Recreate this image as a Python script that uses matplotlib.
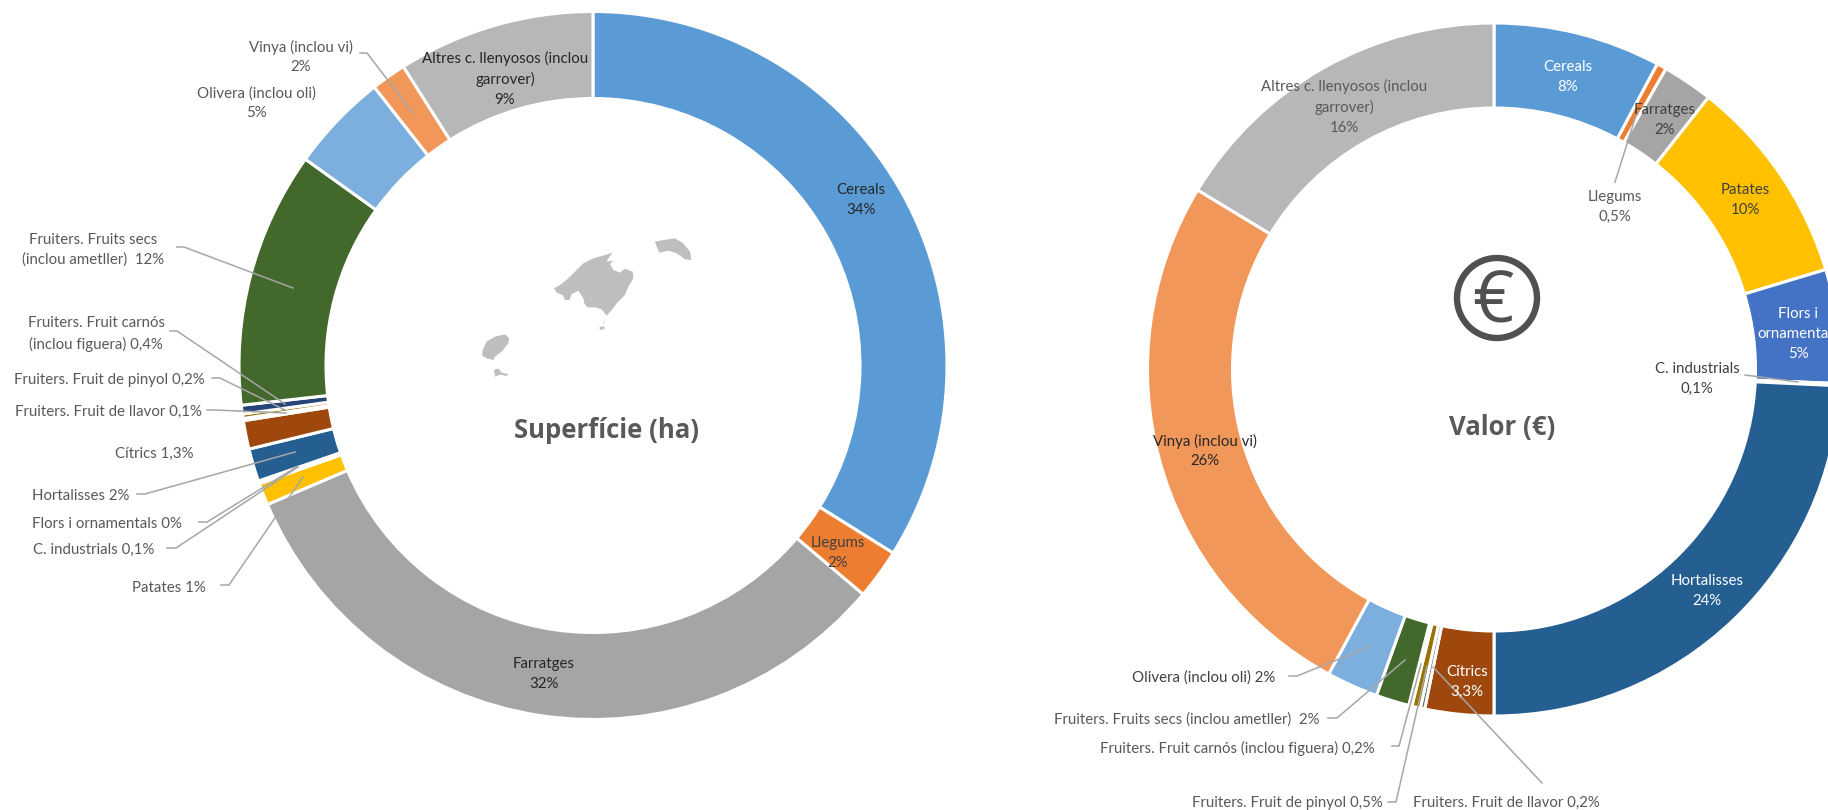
import matplotlib
matplotlib.use("Agg")
import matplotlib.pyplot as plt
from matplotlib.patches import Circle, Polygon

plt.rcParams["font.family"] = ["Lato", "DejaVu Sans"]

W, H = 1828, 810

# Series order is the same in both rings (clockwise from 12 o'clock)
categories = ["Cereals", "Llegums", "Farratges", "Patates", "Flors i ornamentals",
              "C. industrials", "Hortalisses", "Cítrics", "Fruiters. Fruit de llavor",
              "Fruiters. Fruit de pinyol", "Fruiters. Fruit carnós (inclou figuera)",
              "Fruiters. Fruits secs (inclou ametller)", "Olivera (inclou oli)",
              "Vinya (inclou vi)", "Altres c. llenyosos (inclou garrover)"]
surface_pct = [33.9, 2.3, 32.4, 1.0, 0.03, 0.1, 1.5, 1.3, 0.1, 0.2, 0.4, 11.7, 4.5, 1.6, 9.0]
value_pct = [7.8, 0.45, 2.35, 9.7, 5.3, 0.1, 24.2, 3.2, 0.2, 0.4, 0.15, 1.55, 2.4, 25.7, 16.3]
colors = ["#5B9BD5", "#ED7D31", "#A5A5A5", "#FFC000", "#4472C4", "#70AD47", "#255E91", "#9E480E",
          "#636363", "#997300", "#264478", "#43682B", "#7CAFDD", "#F1975A", "#B7B7B7"]

GREY = "#595959"
DARK = "#262626"
WHITE = "#FFFFFF"

# text, x, y, colour, ha  (x, y in pixels from the top left)
surface_labels = [
    ("Cereals\n34%", 861, 200, DARK, "center"),
    ("Llegums\n2%", 838, 553, "#404040", "center"),
    ("Farratges\n32%", 544, 674, DARK, "center"),
    ("Altres c. llenyosos (inclou\ngarrover)\n9%", 505, 79, DARK, "center"),
    ("Vinya (inclou vi)\n2%", 301, 57, GREY, "center"),
    ("Olivera (inclou oli)\n5%", 256, 103, GREY, "center"),
    ("Fruiters. Fruits secs\n(inclou ametller)  12%", 93, 250, GREY, "center"),
    ("Fruiters. Fruit carnós\n(inclou figuera) 0,4%", 96, 334, GREY, "center"),
    ("Fruiters. Fruit de pinyol 0,2%", 109, 380, GREY, "center"),
    ("Fruiters. Fruit de llavor 0,1%", 108, 412, GREY, "center"),
    ("Cítrics 1,3%", 154, 454, GREY, "center"),
    ("Hortalisses 2%", 81, 496, GREY, "center"),
    ("Flors i ornamentals 0%", 107, 524, GREY, "center"),
    ("C. industrials 0,1%", 94, 550, GREY, "center"),
    ("Patates 1%", 169, 588, GREY, "center"),
]
value_labels = [
    ("Cereals\n8%", 1568, 77, WHITE, "center"),
    ("Farratges\n2%", 1665, 120, "#404040", "center"),
    ("Llegums\n0,5%", 1615, 207, GREY, "center"),
    ("Patates\n10%", 1745, 200, "#404040", "center"),
    ("Flors i\nornamentals\n5%", 1798, 334, WHITE, "center"),
    ("C. industrials\n0,1%", 1697, 379, "#404040", "center"),
    ("Hortalisses\n24%", 1707, 591, WHITE, "center"),
    ("Cítrics\n3,3%", 1467, 682, WHITE, "center"),
    ("Vinya (inclou vi)\n26%", 1205, 451, DARK, "center"),
    ("Altres c. llenyosos (inclou\ngarrover)\n16%", 1344, 107, GREY, "center"),
    ("Olivera (inclou oli) 2%", 1204, 678, "#404040", "center"),
    ("Fruiters. Fruits secs (inclou ametller)  2%", 1319, 720, GREY, "right"),
    ("Fruiters. Fruit carnós (inclou figuera) 0,2%", 1375, 748, GREY, "right"),
    ("Fruiters. Fruit de pinyol 0,5%", 1383, 803, GREY, "right"),
    ("Fruiters. Fruit de llavor 0,2%", 1413, 803, GREY, "left"),
]

# leader lines, pixels from the top left
leaders = [
    [(177, 247), (184, 247), (293, 288)],
    [(170, 331), (177, 331), (285, 404)],
    [(212, 378), (220, 378), (285, 410)],
    [(207, 410), (215, 410), (286, 413)],
    [(137, 494), (145, 494), (295, 452)],
    [(199, 522), (207, 522), (298, 466)],
    [(167, 548), (176, 548), (298, 467)],
    [(221, 585), (229, 585), (303, 477)],
    [(360, 53), (367, 53), (413, 113)],
    [(1615, 182), (1637, 112)],
    [(1745, 375), (1798, 382)],
    [(1289, 676), (1297, 676), (1369, 647)],
    [(1328, 718), (1337, 718), (1405, 660)],
    [(1392, 746), (1399, 746), (1421, 664)],
    [(1388, 802), (1396, 802), (1427, 666)],
    [(1542, 783), (1433, 667)],
]

# Balearic islands outline, traced in a 3x crop with origin (450, 220)
mallorca = [(312, 205), (330, 195), (355, 175), (375, 155), (400, 130), (430, 115), (465, 105), (488, 98),
            (475, 115), (470, 125), (490, 122), (480, 132), (490, 150), (510, 158), (525, 146), (548, 155),
            (550, 175), (535, 200), (525, 225), (500, 250), (485, 270), (470, 287), (455, 268), (435, 262),
            (412, 262), (403, 250), (400, 235), (385, 212), (365, 222), (358, 240), (345, 240), (338, 225),
            (320, 218)]
menorca = [(615, 65), (640, 60), (675, 55), (700, 70), (720, 95), (724, 120), (705, 118), (680, 100),
           (655, 92), (628, 98), (622, 85)]
eivissa = [(97, 392), (110, 365), (135, 350), (165, 343), (178, 355), (175, 370), (155, 395), (135, 410),
           (130, 420), (110, 415), (97, 408)]
formentera = [(132, 450), (145, 445), (155, 458), (175, 462), (170, 468), (150, 464), (135, 470)]
cabrera = [(447, 323), (460, 318), (465, 325), (452, 330)]
conillera = [(460, 305), (465, 302), (460, 312)]
islands = [mallorca, menorca, eivissa, formentera, cabrera, conillera]


def fy(y):
    # pixel rows count from the top, the axes from the bottom
    return H - y


fig = plt.figure(figsize=(W / 100, H / 100), dpi=100)
ax = fig.add_axes([0, 0, 1, 1])

# Rings
wedge_style = {"edgecolor": "white", "linewidth": 2.2}
ax.pie(surface_pct, colors=colors, startangle=90, counterclock=False, center=(593, fy(365.5)), radius=354,
       wedgeprops=dict(width=87, **wedge_style))
ax.pie(value_pct, colors=colors, startangle=90, counterclock=False, center=(1494, fy(369.5)), radius=346.5,
       wedgeprops=dict(width=85, **wedge_style))

ax.set_xlim(0, W)
ax.set_ylim(0, H)
ax.set_aspect("equal")
ax.axis("off")

# Leaders
for line in leaders:
    ax.plot([p[0] for p in line], [fy(p[1]) for p in line], color="#A6A6A6", lw=1.1, zorder=3)

# Labels
for text, x, y, col, ha in surface_labels + value_labels:
    ax.text(x, fy(y), text, color=col, ha=ha, va="center", ma="center", fontsize=10.85, linespacing=1.5, zorder=4)

# Centre titles
ax.text(607, fy(431), "Superfície (ha)", color=GREY, fontsize=18.5, fontweight="bold", family="Open Sans",
        ha="center", va="center")
ax.text(1502, fy(427), "Valor (€)", color=GREY, fontsize=18.5, fontweight="bold", family="Open Sans",
        ha="center", va="center")

# Map of the islands
for shape in islands:
    pts = [(450 + px / 3, fy(220 + py / 3)) for px, py in shape]
    ax.add_patch(Polygon(pts, closed=True, facecolor="#BDBEC0", edgecolor="none"))

# Euro icon
ax.add_patch(Circle((1497, fy(298)), 40, facecolor="none", edgecolor="#505050", linewidth=4.6))
ax.text(1493, fy(304), "€", color="#505050", fontsize=52, family="Open Sans", ha="center", va="center")

fig.savefig("out.png", dpi=100)
